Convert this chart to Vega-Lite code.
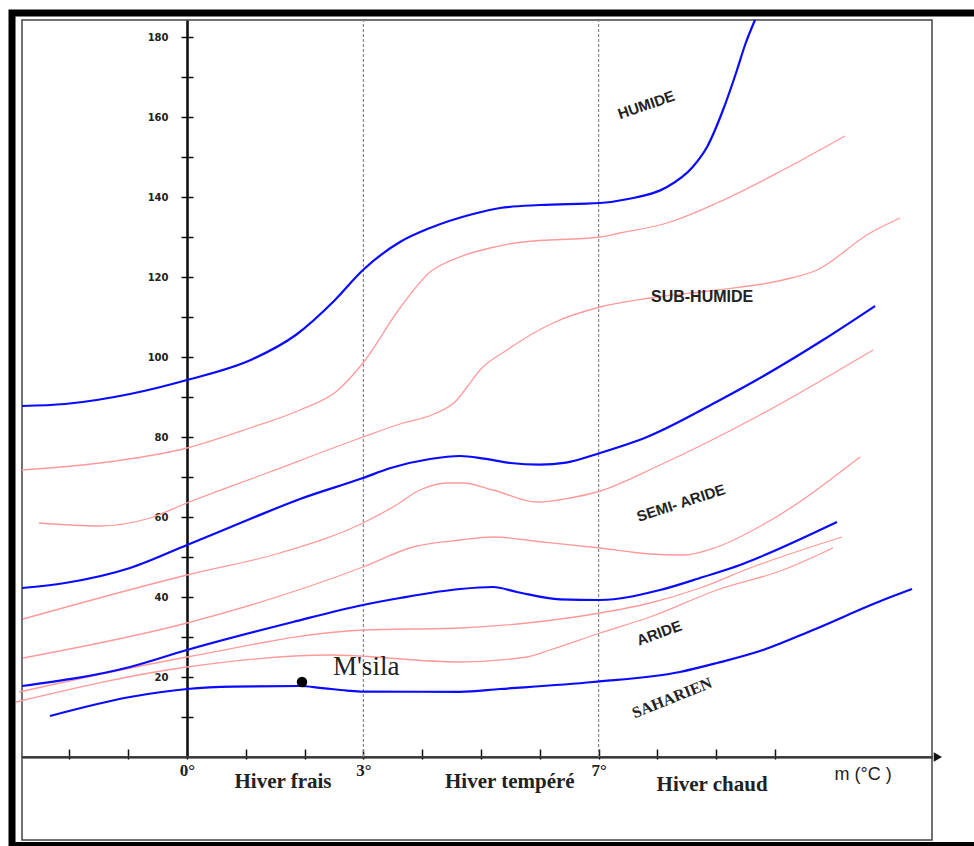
{
  "$schema": "https://vega.github.io/schema/vega-lite/v6.json",
  "width": 910,
  "height": 737,
  "autosize": "none",
  "padding": {"left": 22, "top": 20, "right": 42, "bottom": 89},
  "background": "white",
  "config": {"view": {"stroke": "#444", "strokeWidth": 1.5}},
  "datasets": {
    "blue": [
      {"s": "b1", "m": -2.806, "Q": 87.75}, {"s": "b1", "m": -2.075, "Q": 88.25}, {"s": "b1", "m": -0.969, "Q": 90.75}, {"s": "b1", "m": 0, "Q": 94.25}, {"s": "b1", "m": 1.122, "Q": 99.5}, {"s": "b1", "m": 1.85, "Q": 105.5}, {"s": "b1", "m": 2.5, "Q": 114}, {"s": "b1", "m": 2.993, "Q": 121.75}, {"s": "b1", "m": 3.622, "Q": 128.75}, {"s": "b1", "m": 4.133, "Q": 132.25}, {"s": "b1", "m": 4.864, "Q": 135.75}, {"s": "b1", "m": 5.323, "Q": 137.25}, {"s": "b1", "m": 6.003, "Q": 138}, {"s": "b1", "m": 7.024, "Q": 138.5}, {"s": "b1", "m": 7.5, "Q": 139.5}, {"s": "b1", "m": 8.163, "Q": 142.5}, {"s": "b1", "m": 8.6, "Q": 147.5}, {"s": "b1", "m": 8.844, "Q": 152.5}, {"s": "b1", "m": 9.116, "Q": 161.75}, {"s": "b1", "m": 9.354, "Q": 171.75}, {"s": "b1", "m": 9.49, "Q": 178}, {"s": "b1", "m": 9.66, "Q": 184.25},
      {"s": "b2", "m": -2.806, "Q": 42.25}, {"s": "b2", "m": -2.075, "Q": 43.5}, {"s": "b2", "m": -0.969, "Q": 47.25}, {"s": "b2", "m": 0, "Q": 53}, {"s": "b2", "m": 1.071, "Q": 59.5}, {"s": "b2", "m": 1.922, "Q": 64.5}, {"s": "b2", "m": 2.993, "Q": 69.75}, {"s": "b2", "m": 3.463, "Q": 72.25}, {"s": "b2", "m": 4.133, "Q": 74.5}, {"s": "b2", "m": 4.643, "Q": 75.25}, {"s": "b2", "m": 5.05, "Q": 74.6}, {"s": "b2", "m": 5.5, "Q": 73.5}, {"s": "b2", "m": 6.0, "Q": 73.1}, {"s": "b2", "m": 6.446, "Q": 73.6}, {"s": "b2", "m": 7.024, "Q": 76}, {"s": "b2", "m": 7.823, "Q": 80}, {"s": "b2", "m": 9.065, "Q": 89.25}, {"s": "b2", "m": 9.745, "Q": 94.75}, {"s": "b2", "m": 10.816, "Q": 104.25}, {"s": "b2", "m": 11.701, "Q": 112.75},
      {"s": "b3", "m": -2.806, "Q": 17.75}, {"s": "b3", "m": -0.969, "Q": 22.5}, {"s": "b3", "m": 0, "Q": 26.75}, {"s": "b3", "m": 1.803, "Q": 33.75}, {"s": "b3", "m": 2.993, "Q": 38}, {"s": "b3", "m": 3.622, "Q": 39.75}, {"s": "b3", "m": 4.643, "Q": 42}, {"s": "b3", "m": 5.204, "Q": 42.5}, {"s": "b3", "m": 5.612, "Q": 41.25}, {"s": "b3", "m": 6.344, "Q": 39.4}, {"s": "b3", "m": 7.024, "Q": 39.25}, {"s": "b3", "m": 8.044, "Q": 41.75}, {"s": "b3", "m": 8.776, "Q": 45}, {"s": "b3", "m": 9.405, "Q": 48}, {"s": "b3", "m": 9.745, "Q": 50}, {"s": "b3", "m": 11.054, "Q": 58.75},
      {"s": "b4", "m": -2.33, "Q": 10.25}, {"s": "b4", "m": -0.969, "Q": 15}, {"s": "b4", "m": 0, "Q": 17}, {"s": "b4", "m": 0.782, "Q": 17.6}, {"s": "b4", "m": 1.922, "Q": 17.75}, {"s": "b4", "m": 2.262, "Q": 17.3}, {"s": "b4", "m": 2.721, "Q": 16.6}, {"s": "b4", "m": 2.993, "Q": 16.35}, {"s": "b4", "m": 4.643, "Q": 16.3}, {"s": "b4", "m": 5.323, "Q": 17}, {"s": "b4", "m": 6.905, "Q": 18.75}, {"s": "b4", "m": 8.384, "Q": 21.25}, {"s": "b4", "m": 9.014, "Q": 23.5}, {"s": "b4", "m": 9.796, "Q": 26.75}, {"s": "b4", "m": 10.646, "Q": 31.75}, {"s": "b4", "m": 11.837, "Q": 39.25}, {"s": "b4", "m": 12.33, "Q": 42}
    ],
    "red": [
      {"s": "r1", "m": -2.806, "Q": 71.75}, {"s": "r1", "m": -1.48, "Q": 73.5}, {"s": "r1", "m": 0, "Q": 77.25}, {"s": "r1", "m": 1.071, "Q": 82.25}, {"s": "r1", "m": 1.922, "Q": 86.75}, {"s": "r1", "m": 2.55, "Q": 91.5}, {"s": "r1", "m": 2.993, "Q": 98.5}, {"s": "r1", "m": 3.622, "Q": 112.25}, {"s": "r1", "m": 4.133, "Q": 121.25}, {"s": "r1", "m": 4.592, "Q": 124.75}, {"s": "r1", "m": 5.153, "Q": 127.25}, {"s": "r1", "m": 5.714, "Q": 128.75}, {"s": "r1", "m": 7.024, "Q": 130}, {"s": "r1", "m": 7.364, "Q": 131}, {"s": "r1", "m": 8.163, "Q": 133.5}, {"s": "r1", "m": 9.014, "Q": 138.5}, {"s": "r1", "m": 10.136, "Q": 146.75}, {"s": "r1", "m": 11.19, "Q": 155.25},
      {"s": "r2", "m": -2.517, "Q": 58.5}, {"s": "r2", "m": -1.497, "Q": 57.75}, {"s": "r2", "m": -0.629, "Q": 59.75}, {"s": "r2", "m": 0, "Q": 63.5}, {"s": "r2", "m": 1.361, "Q": 71}, {"s": "r2", "m": 2.993, "Q": 80}, {"s": "r2", "m": 3.622, "Q": 83.25}, {"s": "r2", "m": 4.2, "Q": 85.75}, {"s": "r2", "m": 4.592, "Q": 89.25}, {"s": "r2", "m": 4.762, "Q": 92.5}, {"s": "r2", "m": 4.983, "Q": 96.75}, {"s": "r2", "m": 5.442, "Q": 101.75}, {"s": "r2", "m": 6.224, "Q": 108.5}, {"s": "r2", "m": 7.024, "Q": 112.5}, {"s": "r2", "m": 7.874, "Q": 114.75}, {"s": "r2", "m": 9.014, "Q": 116.75}, {"s": "r2", "m": 10.136, "Q": 119.25}, {"s": "r2", "m": 10.714, "Q": 121.75}, {"s": "r2", "m": 11.616, "Q": 131}, {"s": "r2", "m": 12.126, "Q": 134.75},
      {"s": "r3", "m": -2.789, "Q": 34.5}, {"s": "r3", "m": 0, "Q": 45.5}, {"s": "r3", "m": 1.582, "Q": 51}, {"s": "r3", "m": 2.993, "Q": 58.5}, {"s": "r3", "m": 3.503, "Q": 62.5}, {"s": "r3", "m": 3.963, "Q": 66.75}, {"s": "r3", "m": 4.422, "Q": 68.5}, {"s": "r3", "m": 4.694, "Q": 68.5}, {"s": "r3", "m": 5.204, "Q": 66.75}, {"s": "r3", "m": 5.952, "Q": 63.75}, {"s": "r3", "m": 6.514, "Q": 64.75}, {"s": "r3", "m": 6.973, "Q": 66.25}, {"s": "r3", "m": 8.044, "Q": 73}, {"s": "r3", "m": 9.745, "Q": 85.5}, {"s": "r3", "m": 11.667, "Q": 101.75},
      {"s": "r4", "m": -2.789, "Q": 24.75}, {"s": "r4", "m": 0, "Q": 33.5}, {"s": "r4", "m": 2.993, "Q": 47.5}, {"s": "r4", "m": 3.844, "Q": 52.5}, {"s": "r4", "m": 4.643, "Q": 54.25}, {"s": "r4", "m": 5.204, "Q": 55}, {"s": "r4", "m": 6.054, "Q": 53.75}, {"s": "r4", "m": 7.024, "Q": 52.25}, {"s": "r4", "m": 7.874, "Q": 50.75}, {"s": "r4", "m": 8.435, "Q": 50.5}, {"s": "r4", "m": 9.014, "Q": 52.5}, {"s": "r4", "m": 9.847, "Q": 58.5}, {"s": "r4", "m": 11.446, "Q": 75},
      {"s": "r5", "m": -2.857, "Q": 16.25}, {"s": "r5", "m": 0, "Q": 25}, {"s": "r5", "m": 2.993, "Q": 31.75}, {"s": "r5", "m": 4.643, "Q": 32.25}, {"s": "r5", "m": 5.782, "Q": 33.5}, {"s": "r5", "m": 7.024, "Q": 36}, {"s": "r5", "m": 7.874, "Q": 38.5}, {"s": "r5", "m": 8.724, "Q": 42.25}, {"s": "r5", "m": 9.575, "Q": 47.25}, {"s": "r5", "m": 11.139, "Q": 55},
      {"s": "r6", "m": -2.908, "Q": 13.75}, {"s": "r6", "m": 0, "Q": 22.5}, {"s": "r6", "m": 2.432, "Q": 25.5}, {"s": "r6", "m": 4.643, "Q": 23.75}, {"s": "r6", "m": 5.782, "Q": 25}, {"s": "r6", "m": 6.173, "Q": 26.75}, {"s": "r6", "m": 7.024, "Q": 31}, {"s": "r6", "m": 7.874, "Q": 35}, {"s": "r6", "m": 9.014, "Q": 41.75}, {"s": "r6", "m": 10.136, "Q": 46.75}, {"s": "r6", "m": 10.986, "Q": 52.25}
    ]
  },
  "layer": [
    {
      "data": {"values": [{"k": "frame"}]},
      "mark": {"type": "rect", "filled": false, "stroke": "black", "strokeWidth": 7, "clip": false},
      "encoding": {
        "x": {"datum": -2.976, "type": "quantitative", "scale": {"domain": [-2.806, 12.67], "nice": false, "zero": false}, "axis": null},
        "x2": {"datum": 13.49},
        "y": {"datum": 186, "type": "quantitative", "scale": {"domain": [0, 184.25], "nice": false, "zero": false}, "axis": null},
        "y2": {"datum": -22.125}
      }
    },
    {
      "data": {"values": [{"k": "lowerbox"}]},
      "mark": {"type": "rect", "filled": false, "stroke": "#444", "strokeWidth": 1.5, "clip": false},
      "encoding": {
        "x": {"datum": -2.806, "type": "quantitative", "axis": null},
        "x2": {"datum": 12.67},
        "y": {"datum": 0, "type": "quantitative", "axis": null},
        "y2": {"datum": -20.75}
      }
    },
    {
      "data": {"values": [{"m": 3}, {"m": 7}]},
      "mark": {"type": "rule", "color": "#888", "strokeWidth": 1.2, "strokeDash": [3, 2]},
      "encoding": {
        "x": {"field": "m", "type": "quantitative", "axis": null},
        "y": {"datum": 0, "type": "quantitative", "axis": null},
        "y2": {"datum": 184.25}
      }
    },
    {
      "data": {"name": "red"},
      "mark": {"type": "line", "color": "#ff9a9a", "strokeWidth": 1.3, "interpolate": "monotone"},
      "encoding": {
        "x": {"field": "m", "type": "quantitative", "axis": {"orient": "top", "offset": -737, "domain": false, "labels": false, "values": [-2, -1, 1, 2, 3, 4, 5, 6, 7, 8, 9, 10], "tickSize": 8, "tickColor": "#111", "tickWidth": 1.5, "grid": false, "title": null}},
        "y": {"field": "Q", "type": "quantitative", "axis": {"orient": "right", "offset": -745, "domain": false, "labels": false, "values": [10, 20, 30, 40, 50, 60, 70, 80, 90, 100, 110, 120, 130, 140, 150, 160, 170, 180], "tickSize": 6, "tickColor": "#111", "tickWidth": 1.5, "grid": false, "title": null}},
        "detail": {"field": "s"}
      }
    },
    {
      "data": {"name": "blue"},
      "mark": {"type": "line", "color": "#0a0aff", "strokeWidth": 2.2, "interpolate": "monotone"},
      "encoding": {
        "x": {"field": "m", "type": "quantitative", "axis": {"orient": "bottom", "values": [-2, -1, 0, 1, 2, 3, 4, 5, 6, 7, 8, 9, 10], "tickSize": 2, "tickColor": "#111", "tickWidth": 1.5, "domainColor": "#111", "domainWidth": 2.2, "grid": false, "title": null, "labelExpr": "datum.value == 0 || datum.value == 3 || datum.value == 7 ? datum.value + '°' : ''", "labelFont": "Liberation Serif", "labelFontWeight": "bold", "labelFontSize": 17, "labelColor": "#222", "labelPadding": 3, "labelDx": 5}},
        "y": {"field": "Q", "type": "quantitative", "axis": {"orient": "left", "offset": -165, "domain": true, "domainColor": "#111", "domainWidth": 2.6, "values": [10, 20, 30, 40, 50, 60, 70, 80, 90, 100, 110, 120, 130, 140, 150, 160, 170, 180], "tickSize": 6, "tickColor": "#111", "tickWidth": 1.5, "grid": false, "title": null, "labelExpr": "datum.value % 20 == 0 ? datum.label : ''", "labelFont": "DejaVu Sans", "labelFontWeight": "bold", "labelFontSize": 10, "labelColor": "#222", "labelPadding": 13}},
        "detail": {"field": "s"}
      }
    },
    {
      "data": {"values": [{"m": 12.77, "Q": 0}]},
      "mark": {"type": "point", "shape": "triangle-right", "filled": true, "color": "#111", "size": 90, "opacity": 1, "clip": false},
      "encoding": {
        "x": {"field": "m", "type": "quantitative", "axis": null},
        "y": {"field": "Q", "type": "quantitative", "axis": null}
      }
    },
    {
      "data": {"values": [{"station": "M'sila", "m": 1.956, "Q": 18.75}]},
      "mark": {"type": "point", "filled": true, "color": "black", "size": 110, "opacity": 1},
      "encoding": {
        "x": {"field": "m", "type": "quantitative", "axis": null},
        "y": {"field": "Q", "type": "quantitative", "axis": null}
      }
    },
    {
      "data": {"values": [{"station": "M'sila", "m": 2.483, "Q": 22.5}]},
      "mark": {"type": "text", "align": "left", "baseline": "middle", "font": "Liberation Serif", "fontSize": 27, "color": "#222"},
      "encoding": {
        "x": {"field": "m", "type": "quantitative", "axis": null},
        "y": {"field": "Q", "type": "quantitative", "axis": null},
        "text": {"field": "station"}
      }
    },
    {
      "data": {"values": [{"t": "HUMIDE", "m": 7.81, "Q": 163}]},
      "mark": {"type": "text", "align": "center", "baseline": "middle", "font": "Liberation Sans", "fontWeight": "bold", "fontSize": 15, "color": "#222", "angle": 341},
      "encoding": {"x": {"field": "m", "type": "quantitative", "axis": null}, "y": {"field": "Q", "type": "quantitative", "axis": null}, "text": {"field": "t"}}
    },
    {
      "data": {"values": [{"t": "SUB-HUMIDE", "m": 8.76, "Q": 115}]},
      "mark": {"type": "text", "align": "center", "baseline": "middle", "font": "Liberation Sans", "fontWeight": "bold", "fontSize": 16, "color": "#222"},
      "encoding": {"x": {"field": "m", "type": "quantitative", "axis": null}, "y": {"field": "Q", "type": "quantitative", "axis": null}, "text": {"field": "t"}}
    },
    {
      "data": {"values": [{"t": "SEMI- ARIDE", "m": 8.4, "Q": 63.5}]},
      "mark": {"type": "text", "align": "center", "baseline": "middle", "font": "Liberation Sans", "fontWeight": "bold", "fontSize": 15, "color": "#222", "angle": 342},
      "encoding": {"x": {"field": "m", "type": "quantitative", "axis": null}, "y": {"field": "Q", "type": "quantitative", "axis": null}, "text": {"field": "t"}}
    },
    {
      "data": {"values": [{"t": "ARIDE", "m": 8.03, "Q": 31}]},
      "mark": {"type": "text", "align": "center", "baseline": "middle", "font": "Liberation Sans", "fontWeight": "bold", "fontSize": 15, "color": "#222", "angle": 340},
      "encoding": {"x": {"field": "m", "type": "quantitative", "axis": null}, "y": {"field": "Q", "type": "quantitative", "axis": null}, "text": {"field": "t"}}
    },
    {
      "data": {"values": [{"t": "SAHARIEN", "m": 8.25, "Q": 14.75}]},
      "mark": {"type": "text", "align": "center", "baseline": "middle", "font": "Liberation Serif", "fontWeight": "bold", "fontSize": 16, "color": "#222", "angle": 338},
      "encoding": {"x": {"field": "m", "type": "quantitative", "axis": null}, "y": {"field": "Q", "type": "quantitative", "axis": null}, "text": {"field": "t"}}
    },
    {
      "data": {"values": [{"t": "Hiver frais", "m": 1.633, "Q": -6.25}, {"t": "Hiver tempéré", "m": 5.49, "Q": -6.25}, {"t": "Hiver chaud", "m": 8.93, "Q": -7}]},
      "mark": {"type": "text", "align": "center", "baseline": "middle", "font": "Liberation Serif", "fontWeight": "bold", "fontSize": 21, "color": "#222"},
      "encoding": {"x": {"field": "m", "type": "quantitative", "axis": null}, "y": {"field": "Q", "type": "quantitative", "axis": null}, "text": {"field": "t"}}
    },
    {
      "data": {"values": [{"t": "m (°C )", "m": 11.5, "Q": -4.5}]},
      "mark": {"type": "text", "align": "center", "baseline": "middle", "font": "Liberation Sans", "fontSize": 18, "color": "#222"},
      "encoding": {"x": {"field": "m", "type": "quantitative", "axis": null}, "y": {"field": "Q", "type": "quantitative", "axis": null}, "text": {"field": "t"}}
    }
  ],
  "resolve": {"axis": {"x": "independent", "y": "independent"}}
}
